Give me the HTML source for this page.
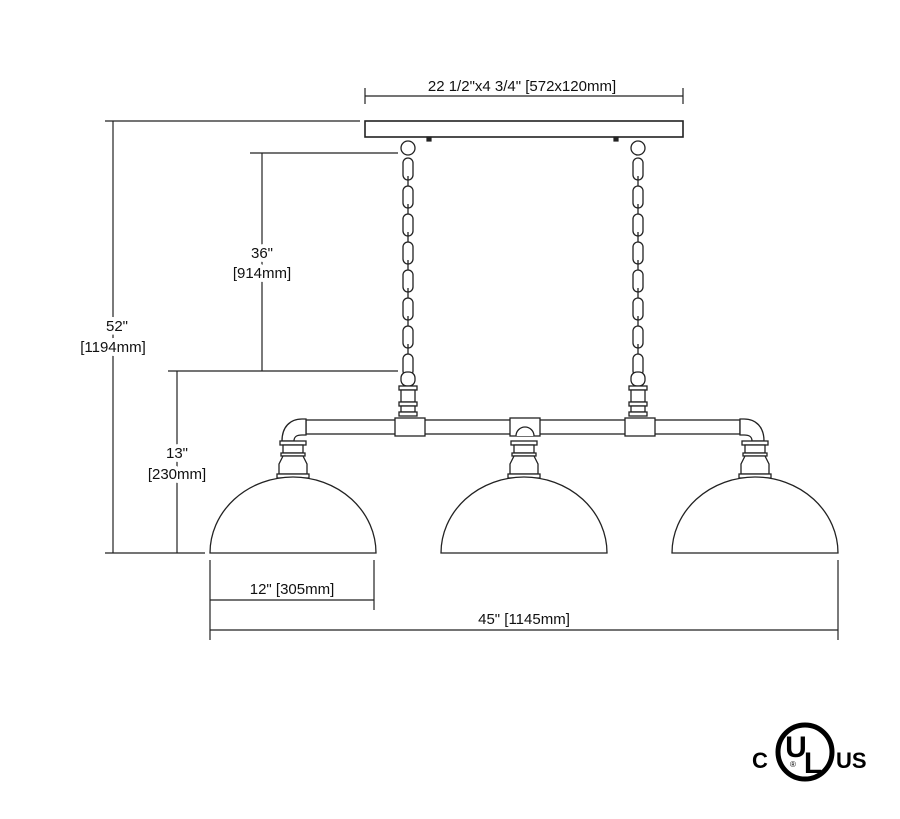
<!DOCTYPE html>
<html><head><meta charset="utf-8"><style>
html,body{margin:0;padding:0;background:#fff}
svg{display:block}
text{font-family:"Liberation Sans",sans-serif;font-size:15px;fill:#111}
.b{stroke:#fff;stroke-width:8px;paint-order:stroke;stroke-linejoin:round}
</style></head><body>
<svg width="900" height="819" viewBox="0 0 900 819" xmlns="http://www.w3.org/2000/svg">
<g stroke="#222" stroke-width="1.2" fill="none">
<line x1="365" y1="96" x2="683" y2="96"/>
<line x1="365" y1="88" x2="365" y2="104"/>
<line x1="683" y1="88" x2="683" y2="104"/>
<rect x="365" y="121" width="318" height="16" stroke-width="1.6"/>
<rect x="427" y="137" width="4" height="4" fill="#222"/>
<rect x="614" y="137" width="4" height="4" fill="#222"/>
<line x1="105" y1="121" x2="360" y2="121"/>
<line x1="113" y1="121" x2="113" y2="553"/>
<line x1="105" y1="553" x2="205" y2="553"/>
<line x1="250" y1="153" x2="398" y2="153"/>
<line x1="262" y1="153" x2="262" y2="371"/>
<line x1="168" y1="371" x2="398" y2="371"/>
<line x1="177" y1="371" x2="177" y2="553"/>
<line x1="210" y1="600" x2="374" y2="600"/>
<line x1="210" y1="560" x2="210" y2="640"/>
<line x1="374" y1="560" x2="374" y2="610"/>
<line x1="210" y1="630" x2="838" y2="630"/>
<line x1="838" y1="560" x2="838" y2="640"/>
</g>
<g stroke="#222" stroke-width="1.3" fill="#fff">
<circle cx="408" cy="148" r="7"/><circle cx="638" cy="148" r="7"/>
<g id="ch">
<rect x="403" y="158" width="10" height="22" rx="5"/>
<line x1="408" y1="176" x2="408" y2="190"/>
<rect x="403" y="186" width="10" height="22" rx="5"/>
<line x1="408" y1="204" x2="408" y2="218"/>
<rect x="403" y="214" width="10" height="22" rx="5"/>
<line x1="408" y1="232" x2="408" y2="246"/>
<rect x="403" y="242" width="10" height="22" rx="5"/>
<line x1="408" y1="260" x2="408" y2="274"/>
<rect x="403" y="270" width="10" height="22" rx="5"/>
<line x1="408" y1="288" x2="408" y2="302"/>
<rect x="403" y="298" width="10" height="22" rx="5"/>
<line x1="408" y1="316" x2="408" y2="330"/>
<rect x="403" y="326" width="10" height="22" rx="5"/>
<line x1="408" y1="344" x2="408" y2="358"/>
<rect x="403" y="354" width="10" height="22" rx="5"/>
<rect x="401" y="372" width="14" height="14" rx="6"/>
<rect x="399" y="386" width="18" height="4"/>
<rect x="401" y="390" width="14" height="12"/>
<rect x="399" y="402" width="18" height="4"/>
<rect x="401" y="406" width="14" height="6"/>
<rect x="399" y="412" width="18" height="4"/>
</g>
<use href="#ch" x="230"/>
</g>
<g stroke="#222" stroke-width="1.3" fill="#fff">
<rect x="306" y="420" width="434" height="14"/>
<rect x="395" y="418" width="30" height="18"/>
<rect x="625" y="418" width="30" height="18"/>
<rect x="510" y="418" width="30" height="18"/>
<path d="M516 436 a9 9 0 0 1 18 0"/>
<path d="M306 419 v16 h-4 c-6 0 -8 2 -8 6 h-12 c0 -14 8 -22 20 -22 z"/>
<path d="M740 419 v16 h4 c6 0 8 2 8 6 h12 c0 -14 -8 -22 -20 -22 z"/>
<g id="nk">
<rect x="280" y="441" width="26" height="4"/>
<rect x="283" y="445" width="20" height="8"/>
<rect x="281" y="453" width="24" height="3"/>
<path d="M283 456 l-4 8 v10 h28 v-10 l-4 -8 z"/>
<rect x="277" y="474" width="32" height="4"/>
<path d="M210 553 A83 76 0 0 1 376 553 Z"/>
</g>
<use href="#nk" x="462"/>
<use href="#nk" x="231"/>
</g>
<text x="522" y="91" text-anchor="middle">22 1/2"x4 3/4" [572x120mm]</text>
<text class="b" x="262" y="258" text-anchor="middle">36"</text>
<text class="b" x="262" y="278" text-anchor="middle">[914mm]</text>
<text class="b" x="117" y="331" text-anchor="middle">52"</text>
<text class="b" x="113" y="352" text-anchor="middle">[1194mm]</text>
<text class="b" x="177" y="458" text-anchor="middle">13"</text>
<text class="b" x="177" y="479" text-anchor="middle">[230mm]</text>
<text x="292" y="594" text-anchor="middle">12" [305mm]</text>
<text x="524" y="624" text-anchor="middle">45" [1145mm]</text>
<circle cx="805" cy="752" r="27" stroke="#000" stroke-width="5" fill="none"/>
<text x="752" y="768" style="font-size:22px;font-weight:bold;fill:#000">C</text>
<text x="836" y="768" style="font-size:22px;font-weight:bold;fill:#000">US</text>
<text x="796" y="757" text-anchor="middle" style="font-size:30px;font-weight:bold;fill:#000">U</text>
<text x="813" y="773" text-anchor="middle" style="font-size:30px;font-weight:bold;fill:#000">L</text>
<text x="793" y="767" text-anchor="middle" style="font-size:8px;fill:#000">®</text>
</svg>
</body></html>
